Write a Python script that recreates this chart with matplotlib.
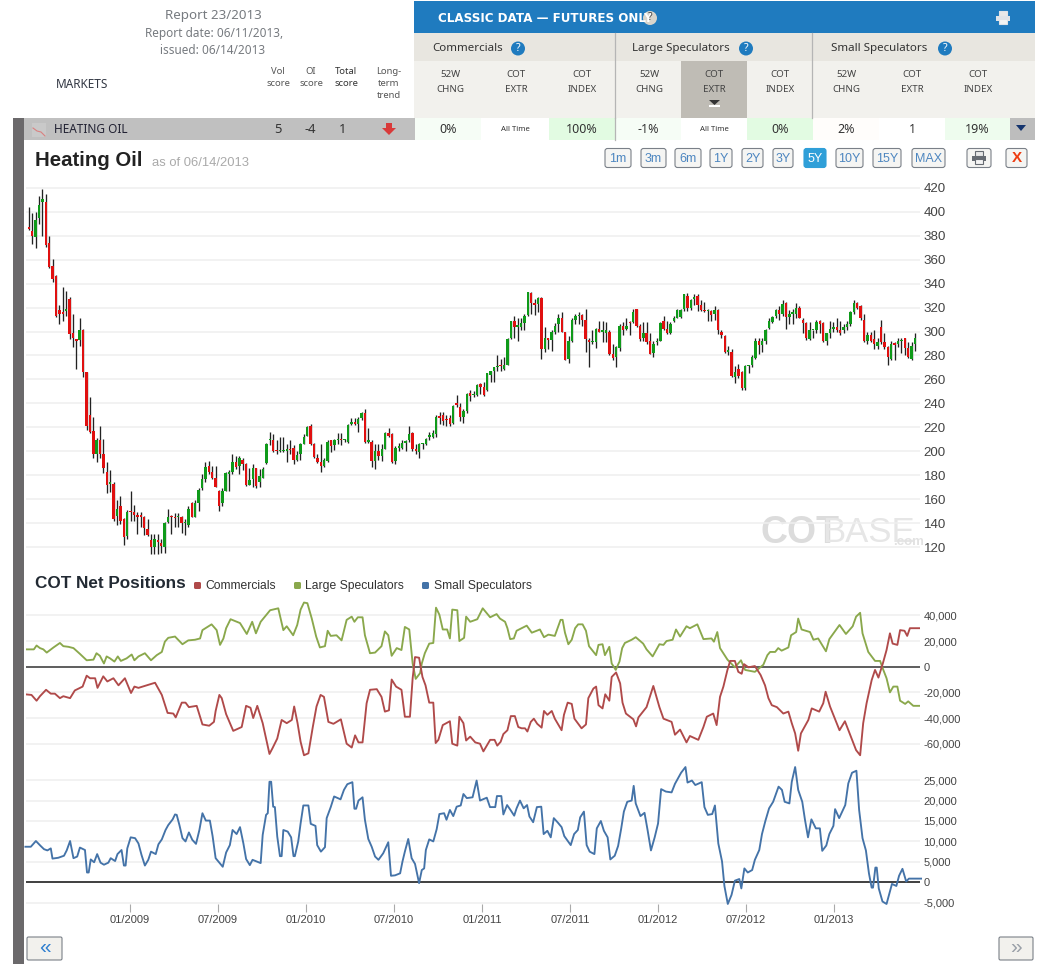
import numpy as np
import matplotlib
matplotlib.use("Agg")
import matplotlib.pyplot as plt
from matplotlib.patches import Rectangle, FancyBboxPatch, Circle, Polygon

plt.rcParams['font.family'] = ['Liberation Sans', 'DejaVu Sans']

# ---------- data ----------
first_candle_week = -29.9   # weeks relative to 01/2009
candle_open = [
387,384,379,395,408,408,374,355,346,318, 316,317,327,299,294,293,301,266,230,217,
198,209,198,183,173,173,146,154,143,129, 150,149,147,147,145,135,126,120,126,123,
120,141,146,145,145,145,140,138,157,145, 157,169,177,188,183,178,167,157,167,181,
183,191,188,193,189,172,177,186,174,178, 190,209,209,201,200,200,200,202,203,193,
198,206,213,221,206,194,191,188,192,209, 205,209,210,209,208,223,224,223,228,232,
208,208,192,200,196,202,215,214,192,203, 203,207,209,215,202,199,206,206,212,212,
214,229,230,227,228,224,240,237,229,234, 249,247,247,256,254,251,264,267,270,272,
269,272,295,309,304,304,307,314,332,324, 323,328,285,295,293,300,306,311,300,277,
292,310,313,314,310,293,291,291,302,300, 299,300,281,279,286,305,302,308,308,319,
305,295,299,292,282,291,292,309,302,299, 309,311,312,319,330,320,327,330,322,318,
317,317,315,318,300,296,283,283,262,269, 266,253,271,272,278,292,289,292,303,308,
313,318,315,324,312,315,315,320,310,307, 294,301,301,309,307,292,299,302,304,301,
301,304,306,316,324,321,310,292,297,294, 288,304,291,287,277,290,290,292,295,286,
277,290]
candle_close = [
386,380,393,406,411,372,354,344,313,315, 315,319,298,295,292,301,266,221,216,198,
209,198,186,172,174,143,152,142,128,149, 149,147,145,145,136,130,120,127,124,121,
140,145,145,144,145,140,140,152,145,157, 168,177,187,183,178,170,154,167,182,183,
191,187,194,189,172,176,186,171,179,185, 206,210,200,200,200,200,202,201,193,197,
206,212,220,206,195,191,188,193,208,204, 209,210,209,209,222,224,223,227,232,208,
208,192,200,196,202,215,213,191,203,204, 207,208,214,202,200,206,207,210,212,215,
229,228,225,226,223,238,239,229,234,248, 246,248,255,254,247,265,267,270,271,271,
272,294,309,304,305,307,313,333,324,322, 328,285,295,293,300,305,311,300,276,292,
310,313,314,310,294,291,291,302,300,300, 301,281,278,287,305,301,305,307,316,305,
294,299,291,281,290,292,307,302,299,306, 311,318,318,331,320,326,329,322,318,317,
318,314,318,301,297,283,283,263,266,263, 253,271,271,279,292,289,292,301,309,312,
318,315,323,312,315,316,320,311,307,295, 301,301,308,306,292,299,302,304,301,299,
304,306,316,324,320,311,292,297,292,290, 291,291,287,279,290,289,292,293,286,279,
288,295]
candle_low = [
385,373,370,390,380,371,353,341,312,306, 309,313,294,287,269,288,262,218,215,194,
191,194,182,165,166,142,138,139,122,127, 142,142,131,137,130,129,114,114,114,115,
115,140,131,137,137,132,130,137,145,145, 150,168,174,181,177,170,150,154,167,167,
181,185,181,184,171,172,170,169,170,178, 189,205,199,198,199,199,191,198,189,192,
193,206,213,205,194,190,183,187,191,199, 201,206,205,208,207,222,222,216,226,207,
207,187,185,193,192,202,212,190,189,200, 202,200,208,200,198,194,202,205,209,211,
212,223,222,221,221,223,237,225,224,232, 242,245,246,248,246,250,258,258,267,267,
268,272,294,295,292,301,301,313,315,314, 316,277,283,285,284,298,300,300,276,274,
291,306,306,305,283,270,290,286,300,291, 291,280,276,270,284,297,301,297,307,304,
292,292,290,281,279,289,292,301,298,298, 308,311,311,317,317,318,322,317,317,316,
309,309,310,298,295,282,280,262,257,261, 251,251,265,270,277,281,283,290,302,307,
311,310,313,302,306,306,311,311,299,293, 293,295,299,299,291,289,295,300,300,297,
299,301,305,315,319,310,291,290,291,285, 285,290,285,272,276,276,287,282,280,278,
276,284]
candle_high = [
404,399,400,413,419,415,380,361,347,322, 337,334,329,315,294,311,302,266,245,229,
211,221,210,191,184,174,159,163,144,151, 167,155,149,149,146,143,131,131,131,127,
141,152,147,148,148,146,143,154,158,159, 169,181,191,192,188,188,168,169,183,184,
198,196,196,194,190,186,189,186,185,187, 207,216,214,209,212,212,206,209,205,200,
207,214,221,223,207,198,206,194,209,209, 210,215,215,210,223,228,228,229,233,235,
219,209,206,206,206,216,219,215,204,207, 209,209,221,216,206,207,207,211,216,218,
230,233,233,230,230,239,247,240,235,249, 251,250,256,257,258,265,267,270,280,277,
279,295,309,313,311,311,315,333,333,327, 329,329,304,295,301,307,315,316,300,296,
311,315,316,315,319,295,301,303,309,309, 308,301,290,288,306,308,311,309,319,319,
306,308,308,299,292,295,308,313,309,308, 313,319,319,331,332,327,331,331,326,325,
319,318,321,319,301,297,288,285,271,273, 267,272,272,280,295,295,295,302,311,313,
319,321,326,325,318,319,324,321,311,308, 308,301,310,310,308,299,309,308,311,309,
306,309,317,326,325,322,315,300,300,301, 295,310,299,288,292,291,295,295,295,291,
291,299]

large_week = [-31,-28.4,-27.6,-26.6,-25.6,-24.6,-22.6,-20.7,-19.7,-18.2,-16.7,-14.8,-12.8,-10.8,-9.9,-8.9,-7.7,-6.9,-5.9,-4.6,-3.6,-2.7,-1,0.5,1.3,2.5,4.4,6.2,7.9,9.4,10.3,11.3,13.3,15.5,17.2,19.2,20.7,21.4,24.1,25.6,26.6,27.6,28.4,29.7,32.5,34.5,36.1,37.2,38.6,41.4,43.8,45.3,46.3,48.2,49.4,50.4,51.4,52.4,53.7,55,56.1,57.6,58.4,59.3,61,62.5,64,65.5,66.3,67.3,68.7,69.4,70.9,72.4,74.3,75.3,76.3,77.3,78.8,80.2,81.2,82.5,83.5,84.4,85.7,86.2,87.1,88.4,89.6,90.4,91.4,92.4,93.7,94.5,95.2,96.7,97.3,98.7,99.3,100.5,102.6,104.2,
106.4,108.3,109.3,110.8,111.5,112.3,113.4,114.2,117.2,118.7,121.1,122.3,123.6,125.5,127.2,127.8,128.5,129.5,130.5,131.5,132.4,133.7,134.7,135.6,137.7,138.4,139.6,140.3,141.6,142.3,143.5,144.6,145.4,146.2,148.2,149.4,151.6,152.6,154.4,156.4,157.6,158.5,160.3,161.3,162.5,164.4,165.4,167.6,169.4,171.8,172.5,173.5,174.3,176.5,178.7,180.5,181.7,184.6,187.1,188.3,189.1,190.6,191.5,192.5,194.5,195.3,196.8,197.4,198.4,200.9,201.9,203.3,205.6,206.6,209.6,211.5,213.5,214.5,215.7,216.4,218.1,220.1,221.6,222.4,223.5,224.5,225.5,226.7,227.5,229,229.9,231.4,233.7]
large_net_k = [13.5,13.5,16.5,14.5,13.5,11,15,18.5,16,15.5,14.5,10,5,5.5,10.5,8.5,2.5,8,6.5,4,8,4.5,6.5,9.5,5,8,10.5,5,9,11.5,19.5,22.5,23.5,17.5,20.5,21,22,28.5,33,28.5,17,22,30,37,34,25.5,35,26,35,44,45.5,28.5,31.5,24.5,32.5,44.5,50,49.5,37.5,23.5,15,16,28,24,24.5,20.5,36.5,39,35,38.5,38.5,24.5,10.5,11,16,27.5,24.5,8.5,14.5,13,31,29,2.5,-9.5,-5,2.5,10.5,18,18.5,46,40.5,29,29,22,44.5,44,20,22.5,39,35,37,45.5,
38.5,41,37.5,35,30,21.5,22,28,32,26.5,29,23,25,24,36.5,36.5,26.5,17.5,21,30,33,33,28,16,9,17,17.5,9,15.5,2.5,-2.5,4,14.5,18.5,21,23,18,13.5,8,17.5,17,20,21,29,23.5,31.5,30,33,21.5,22,19.5,27,14.5,5.5,-0.5,5,-2.5,-4,1.5,9,11.5,11.5,14.5,12.5,15,24.5,27,37.5,29,27,21,22,12,21.5,32.5,25.5,31.5,39,42,26,11.5,4.5,4.5,-1.5,-9,-20,-15.5,-15.5,-26.5,-29,-27,-30.5,-30.5]

comm_week = [-31,-29.1,-27.6,-26.6,-24.8,-23.4,-22.2,-20.7,-19.7,-17.7,-16.3,-14,-12.8,-11.8,-10.3,-9.6,-7.9,-6.7,-4.9,-3.4,-1.5,0.3,1.3,2.5,7.4,9.4,11.1,12.8,13.5,15.3,16.4,17.4,19.7,21.4,23.4,24.8,25.3,26.4,27.1,28.4,30.5,33,34.3,35.6,36.4,37.6,39.2,41.2,42.1,43.5,44.8,46.3,47.8,48.5,49.5,50.4,51.4,52.7,54,55.1,56.3,57.3,58.6,60.1,62.3,64,65.5,66.5,67.5,68.7,69.9,70.9,72.9,74.3,75.3,76.5,77.3,78.6,80.2,81.2,82.7,83.5,84.2,85.4,86.4,87.3,88.4,89.6,90.3,91.1,92.4,94.5,95.2,96.7,97.3,98.5,99.3,100.5,102,103.4,104.4,
106.4,107.7,108.5,109.5,110.3,111.5,112.5,113.7,114.7,115.7,116.7,117.4,118.4,119.3,120.3,121.6,122.3,123.3,124.6,125.5,127.5,128.2,129.3,130.5,131.3,133.4,134.7,135.4,136.9,137.7,138.4,139.6,140.4,141.6,142.3,143.6,144.8,145.5,146.5,148.7,149.5,150.2,152.6,154.6,156.4,157.6,160,161,162.5,164.4,165.4,167.9,169.4,170.4,172.3,173.3,174.3,175.3,176.5,177.3,178.7,179.7,180.7,181.4,182.7,184.6,186.3,187.6,188.6,189.6,191.1,193,194.5,195.5,196.5,197.4,198.2,200.4,201.4,203.6,204.8,205.5,206.8,209.6,211.2,213.2,214.5,215.7,216.6,217.6,219.1,220.1,221.1,222.4,223.5,224.5,225.3,226.7,227.5,228.8,229.6,230.4,233.7]
comm_net_k = [-21.5,-22,-26.5,-23,-18,-21,-21,-24.5,-23,-24.5,-18.5,-15.5,-7,-9,-9,-16.5,-7.5,-11.5,-9,-14.5,-9,-20.5,-15.5,-16.5,-12.5,-22,-36,-36.5,-39.5,-28,-28,-31.5,-30.5,-45,-46,-43,-34.5,-22,-24.5,-37,-50,-47,-30.5,-32,-40,-30.5,-44,-68,-63.5,-56,-41.5,-44,-41.5,-31,-44,-58.5,-69,-67.5,-47,-31,-22,-23.5,-43,-44.5,-41,-60,-63,-53.5,-59,-59,-28.5,-18,-17.5,-23.5,-35,-34,-10,-15.5,-18,-39,-39,-9,7.5,7,-8,-14.5,-28,-28,-59.5,-57,-45.5,-42.5,-60,-61.5,-39,-44,-57.5,-54.5,-59,-60,-66,
-57,-57,-61.5,-58.5,-52.5,-49.5,-38.5,-38.5,-47,-48,-48,-50.5,-43,-40.5,-44.5,-47.5,-34.5,-37.5,-34.5,-40.5,-49.5,-37.5,-28,-29,-40.5,-48,-45,-24.5,-17,-15.5,-30,-32.5,-21.5,-26.5,-8,-4.5,-13,-28,-36.5,-41,-46.5,-39.5,-31.5,-15,-31.5,-40.5,-43,-53,-49,-59,-54,-57,-47,-39,-36.5,-45.5,-23.5,-15.5,-2.5,4.5,4.5,-4,-5.5,2,-0.5,0.5,-6.5,-14.5,-24.5,-30,-31.5,-36.5,-35,-44,-52,-65.5,-52,-41.5,-32.5,-35,-28.5,-19.5,-31,-49.5,-42.5,-56,-65,-69,-44,-28.5,-10.5,-2.5,-8.5,2.5,13,26,18,17,28.5,28,24,30,30]

small_week = [-30.9,-29.3,-27.8,-26.4,-25.4,-24.4,-23.4,-22.9,-21.2,-19.5,-18.7,-17.7,-16.7,-15.6,-14.8,-13.3,-12.7,-12.2,-11.6,-10.6,-9.7,-8.7,-7.7,-6.4,-5.7,-4.4,-3.7,-2.5,-1.8,-1.3,-0.8,0.2,1.5,2.5,3.4,4.4,5.4,6.2,7.6,8.4,9.4,10.5,11.3,12.6,13.3,13.8,14.6,15.5,16.4,17.4,18.4,19.5,20.5,21.4,22.4,23.6,24.4,25.3,26.4,27.4,28.4,29.5,30.3,31.5,32.5,33.5,34.3,35.4,36.2,38.6,39.2,40.2,40.7,41.2,41.7,42.3,42.8,43.5,44.3,44.8,45.3,46.6,47.6,48.3,48.7,49.7,50.4,51.2,52.7,53.4,54.8,55.3,56.4,57.6,58.1,59.3,60.3,62.2,63.2,64.2,65.7,66.3,66.8,67.5,68.7,69.4,70.4,71.4,72.4,73.4,74.8,76.3,77.1,78.3,79.8,80.5,81.2,82.2,83.2,84.2,85.4,86.2,86.9,87.4,88.4,89.6,90.6,91.4,92.8,93.5,94.5,95.5,96.5,97.7,98.5,99.5,101.2,102.4,103.4,105.4,
106.35,107.9,108.4,109.7,110.3,111.4,112.4,113.5,114.2,115.2,116.3,117.3,118,119.1,120.2,121.5,122.2,123.3,124.3,125.2,126.4,127.5,128.3,130.2,131.2,132.3,133,134.1,134.9,135.8,137.2,137.9,139.1,140,141.1,141.9,143.2,144.2,145.1,145.9,146.9,148.2,148.8,149.4,150.8,152,152.9,153.9,155,156,156.9,158.3,160,161,162.8,164.1,164.7,166,167,168.9,169.7,170.7,172,172.8,173.8,174.9,175.6,176.6,177.7,178.7,180,180.6,181.5,182.5,183.8,184.6,185.9,186.7,187.7,188.8,190,191.6,192.6,193.4,194.8,195.5,196.5,197.4,198.6,199.4,200.3,201.3,202.6,203.8,204.5,205.7,206.6,207.8,208.3,209.5,211.3,212.2,213.3,214.6,215.4,216.4,217.4,218.3,219.1,219.5,220.2,220.6,221.2,222.3,223.5,225.1,226.4,227.2,228.2,229.3,230.1,233.7]
small_net_k = [8.7,8.7,10.1,8.9,8.1,7.8,8.3,5.8,6,6.5,7.8,10.1,5.9,6.3,8.5,7.9,2.4,2.4,5.6,4.9,6.9,4.8,4.3,4.8,5.9,5.2,6.9,7.9,4.1,4.1,8.3,11,10.8,9.5,6.7,4.1,5.5,7.5,6.9,9.3,10.5,12.8,14,15.4,16.6,16.5,14,10.8,10,12.2,10.4,9.4,12.8,16.9,15.1,15.1,11.3,5.9,4.8,3.8,7.3,9.1,12.8,11.8,13.5,9.5,5.7,4.2,5.5,4.7,11.6,16.5,16.9,24.6,24.6,18.5,18.4,11.2,6.4,6.4,12.8,12.4,11,6.4,6.4,10,14.4,18.8,18.8,14.3,13.8,9.1,7.5,8.6,15.7,18.4,21,20.3,22.6,24,24.5,18,18,20,20.8,15.3,10.6,8.7,6.3,5.5,7.1,9.8,1.6,1.7,2.2,5.1,7.5,10.6,5.9,4.5,-0.2,3,3.4,7.9,10.5,10,13,16.7,16.9,15.3,17.7,16.2,18.5,18.8,21.6,20.6,20.8,24.9,20,20.7,
18.4,18.4,21.1,21.1,16.6,18.9,17.7,16.3,18.1,20,18.1,18.9,16.1,14.7,18.4,18.5,11.8,12.6,11,15.7,14.6,13.5,11.3,9.1,11.8,12.8,15.9,17.3,9.1,7.5,6.9,13.2,15,12.6,11,5.6,6.5,8.9,13.1,17.3,19.7,20,23.6,19.3,16.2,17,12.8,7.8,11,14.4,22.8,22.2,22,24.1,26.8,28.2,24.4,24.9,23.8,24.5,18.4,16.5,16.7,18.8,9.5,5.1,-0.9,-5.3,-3.1,0.4,0.8,-1.5,3.4,2.4,3,5.5,7.9,11.8,15,18.1,19.7,23.4,22.6,19.7,19.3,24.6,28.2,22.6,19.7,15.3,11,15.4,13.2,13.2,7.7,9,11.8,13.8,17.9,15.7,18.9,24.2,26.8,27.3,17.7,10.8,7.8,2.2,-1.3,-1.3,3.6,3.6,-1.5,-4.7,-5.3,-0.4,-0.9,1.6,3.3,0.2,0.9,0.9]

price_ticks = list(range(120, 421, 20))
upper_ticks = [-60000, -40000, -20000, 0, 20000, 40000]
lower_ticks = [-5000, 0, 5000, 10000, 15000, 20000, 25000]
date_weeks = [0, 26, 52, 78, 104, 130, 156, 182, 208]
date_labels = ['01/2009', '07/2009', '01/2010', '07/2010', '01/2011', '07/2011', '01/2012', '07/2012', '01/2013']

RED, GREEN = '#e01010', '#0f9a1a'
C_COMM, C_LARGE, C_SMALL = '#b04a4a', '#8aa84c', '#4473a8'

W, H = 1051, 964
fig = plt.figure(figsize=(W / 100, H / 100), dpi=100, facecolor='white')

# ---------- page furniture in pixel coordinates ----------
bg = fig.add_axes([0, 0, 1, 1], zorder=0)
bg.set_xlim(0, W); bg.set_ylim(H, 0); bg.axis('off')
UI = ['Noto Sans', 'DejaVu Sans']

def rect(x0, y0, x1, y1, c, z=1):
    bg.add_patch(Rectangle((x0, y0), x1 - x0, y1 - y0, fc=c, ec='none', zorder=z))

def txt(x, y, s, size=8, c='#333333', ha='center', w='normal', fam=UI, **k):
    bg.text(x, y, s, fontsize=size, color=c, ha=ha, va='center', fontweight=w, family=fam, zorder=5, **k)

def help_icon(x, y, fc='#1f7bbf', tc='white', r=7):
    bg.add_patch(Circle((x, y), r, fc=fc, ec='none', zorder=4))
    txt(x, y - 0.3, '?', 7.5, tc, w='bold')

def printer(cx, cy, c='#6b7078'):
    rect(cx - 4, cy - 7, cx + 4, cy - 2, 'white', 5)
    bg.add_patch(Rectangle((cx - 4, cy - 7), 8, 5, fc='#e8e8e8', ec=c, lw=0.8, zorder=5))
    rect(cx - 7, cy - 2, cx + 7, cy + 3, c, 5)
    bg.add_patch(Rectangle((cx - 4, cy + 1), 8, 5, fc='#f4f4f4', ec=c, lw=0.8, zorder=6))

# left block
txt(213, 15, 'Report 23/2013', 9.6, '#777b80')
txt(214, 34, 'Report date: 06/11/2013,', 8.5, '#777b80')
txt(213, 50, 'issued: 06/14/2013', 8.5, '#777b80')
txt(82, 85, 'MARKETS', 8.5, '#333844', w='bold')
txt(278, 72, 'Vol', 6.8, '#555555'); txt(278, 84, 'score', 6.8, '#555555')
txt(311, 72, 'OI', 6.8, '#555555'); txt(311, 84, 'score', 6.8, '#555555')
txt(346, 72, 'Total', 6.8, '#333333', w='bold'); txt(346, 84, 'score', 6.8, '#333333', w='bold')
txt(389, 72, 'Long-', 6.8, '#555555'); txt(389, 84, 'term', 6.8, '#555555'); txt(389, 95, 'trend', 6.8, '#555555')

# blue header and table head
rect(414, 1, 1035, 33, '#1f7bbf')
rect(414, 33, 1035, 61, '#e8e6e0')
rect(414, 61, 1035, 118, '#f2f1ed')
rect(681, 61, 747, 118, '#bfbcb5', 2)
for xv in (615, 812):
    bg.plot([xv, xv], [33, 118], color='#b5b5b5', lw=0.9, zorder=3)
bg.plot([615, 615], [118, 140], color='#b5b5b5', lw=0.9, zorder=3)
txt(438, 18, 'CLASSIC DATA — FUTURES ONLY', 8.6, 'white', ha='left', w='bold', fam=['DejaVu Sans'])
help_icon(650, 18, '#d8d5cc', '#444444')
printer(1003, 18, '#dfe3e8')
for x, s, hx in ((432, 'Commercials', 518), (632, 'Large Speculators', 746), (831, 'Small Speculators', 945)):
    txt(x, 48.5, s, 8.3, '#333333', ha='left', w='bold')
    help_icon(hx, 48.5)
for x, a, b in ((450, '52W', 'CHNG'), (516, 'COT', 'EXTR'), (582, 'COT', 'INDEX'),
                (649, '52W', 'CHNG'), (714, 'COT', 'EXTR'), (780, 'COT', 'INDEX'),
                (846, '52W', 'CHNG'), (912, 'COT', 'EXTR'), (978, 'COT', 'INDEX')):
    txt(x, 74.5, a, 7, '#444444', w='bold'); txt(x, 89.5, b, 7, '#444444', w='bold')
bg.add_patch(Polygon([(709, 100), (720, 100), (714.5, 105)], fc='#333333', ec='none', zorder=4))
rect(709, 105, 720, 106.5, 'white', 4)

# market row
rect(13, 118, 415, 140, '#c0c0c0')
for x0, x1, c, s, fs in ((415, 481, '#f6fdf6', '0%', 9), (481, 549, 'white', 'All Time', 5.6),
                         (549, 615, '#e2fbe2', '100%', 9), (615, 681, '#f6fdf6', '-1%', 9),
                         (681, 747, 'white', 'All Time', 5.6), (747, 813, '#e2fbe2', '0%', 9),
                         (813, 879, '#fffdfb', '2%', 9), (879, 945, 'white', '1', 9),
                         (945, 1010, '#eefcee', '19%', 9)):
    rect(x0, 118, x1, 140, c)
    txt((x0 + x1) / 2, 129.5, s, fs, '#333333')
rect(1010, 118, 1035, 140, '#bdbdbd')
bg.add_patch(Polygon([(1016, 125), (1026, 125), (1021, 131)], fc='#14346e', ec='none', zorder=4))
txt(54, 129.5, 'HEATING OIL', 8.5, '#222233', ha='left')
txt(278, 129.5, '5', 9.3, '#333333'); txt(310, 129.5, '-4', 9.3, '#333333'); txt(343, 129.5, '1', 9.3, '#333333', w='bold')
bg.add_patch(Polygon([(386, 123), (392, 123), (392, 128), (396, 128), (389, 135), (382, 128), (386, 128)],
                     fc='#d93a3a', ec='none', zorder=4))
rect(32, 123, 46, 137, '#c9c9c9', 2)
bg.plot([33, 37, 41, 45], [128, 131, 132, 136], color='#d98080', lw=0.8, zorder=3)

# side bar
rect(13, 118, 24, H, '#6b696b', 3)

# chart title + buttons
txt(35, 160.5, 'Heating Oil', 14.7, '#222222', ha='left', w='bold', fam=['Liberation Sans'])
txt(152, 162.5, 'as of 06/14/2013', 9.4, '#aaaaaa', ha='left', fam=['Liberation Sans'])
for s, x0, x1, on in (('1m', 605, 631, 0), ('3m', 641, 666, 0), ('6m', 675, 701, 0), ('1Y', 710, 732, 0),
                      ('2Y', 742, 763, 0), ('3Y', 773, 793, 0), ('5Y', 804, 826, 1), ('10Y', 836, 863, 0),
                      ('15Y', 873, 901, 0), ('MAX', 912, 945, 0)):
    bg.add_patch(FancyBboxPatch((x0 + 1.5, 150), x1 - x0 - 3, 16, boxstyle='round,pad=1.5,rounding_size=2.5',
                                fc='#2f9fd8' if on else '#f5f5f3', ec='#2f9fd8' if on else '#7a8088', lw=0.8, zorder=3))
    txt((x0 + x1) / 2, 158.5, s, 9, 'white' if on else '#4d86c0', fam=['Liberation Sans'])
for x0, x1 in ((967, 991), (1006, 1027)):
    bg.add_patch(FancyBboxPatch((x0 + 1.5, 150), x1 - x0 - 3, 16, boxstyle='round,pad=1.5,rounding_size=2.5',
                                fc='#f5f5f3', ec='#7a8088', lw=0.8, zorder=3))
printer(979, 158, '#666b72')
txt(1016.5, 158.5, 'X', 11, '#ee3b10', w='bold', fam=['Liberation Sans'])

# watermark
txt(760, 533, 'COT', 27, '#dcdcdc', ha='left', w='bold', fam=['Liberation Sans'])
txt(822, 533, 'BASE', 25, '#e6e6e6', ha='left', fam=['Liberation Sans'])
txt(893, 542, '.com', 9.5, '#e2e2e2', ha='left', w='bold', fam=['Liberation Sans'])

# COT title and legend
txt(35, 583, 'COT Net Positions', 12.3, '#222a33', ha='left', w='bold', fam=['Liberation Sans'])
for sx, tx, c, s in ((194, 205, C_COMM, 'Commercials'), (294, 305, C_LARGE, 'Large Speculators'),
                     (422, 434, C_SMALL, 'Small Speculators')):
    bg.add_patch(FancyBboxPatch((sx + 1, 583), 5, 5, boxstyle='round,pad=1,rounding_size=1.5', fc=c, ec='none', zorder=4))
    txt(tx, 586, s, 8.7, '#333333', ha='left', fam=['Liberation Sans'])

# paging buttons
for x0, x1, s, c in ((27, 62, '«', '#2f7fd0'), (999, 1033, '»', '#9aa0a8')):
    bg.add_patch(FancyBboxPatch((x0 + 1.5, 938.5), x1 - x0 - 3, 20, boxstyle='round,pad=1.5,rounding_size=1.5',
                                fc='#f2f1ed', ec='#7a8088', lw=0.8, zorder=3))
    txt((x0 + x1) / 2, 947.5, s, 15, c, fam=['Liberation Sans'])

# ---------- charts ----------
def week_of(px):
    return (px - 130) / 3.385

def panel(y_top, y_bot, val_top, val_bot, ticks, labels, size):
    ax = fig.add_axes([26 / W, 1 - y_bot / H, (920 - 26) / W, (y_bot - y_top) / H], zorder=2)
    ax.patch.set_alpha(0)
    ax.set_xlim(week_of(26), week_of(920))
    ax.set_ylim(val_bot, val_top)
    for s in ax.spines.values():
        s.set_visible(False)
    ax.yaxis.tick_right()
    ax.set_yticks(ticks, labels)
    ax.tick_params(axis='y', length=0, pad=2.5, labelsize=size, labelcolor='#444444')
    ax.set_xticks([])
    ax.grid(axis='y', color='#efefef', lw=1.1)
    ax.set_axisbelow(True)
    return ax

# price candles
ax1 = panel(180, 558, 120 + (547 - 180) / 1.197, 120 + (547 - 558) / 1.197,
            price_ticks, [str(t) for t in price_ticks], 9.6)
o, c, lo, hi = map(np.array, (candle_open, candle_close, candle_low, candle_high))
wk = first_candle_week + np.arange(len(o)) * 1.003
ax1.vlines(wk, lo, hi, color='#222222', lw=0.95, zorder=2)
cols = np.where(c >= o, GREEN, RED)
bottom = np.minimum(o, c)
height = np.maximum(np.abs(c - o), 1.2)
ax1.bar(wk, height, bottom=bottom, width=0.72, color=cols, lw=0, zorder=3)

# commercials / large speculators
ax2 = panel(600, 760, (666.7 - 600) / 1.2833 * 1000, (666.7 - 760) / 1.2833 * 1000,
            upper_ticks, [f'{t:,}' for t in upper_ticks], 8)
ax2.plot(large_week, np.array(large_net_k) * 1000, color=C_LARGE, lw=1.35, zorder=3)
ax2.plot(comm_week, np.array(comm_net_k) * 1000, color=C_COMM, lw=1.35, zorder=4)
ax2.axhline(0, color='#444444', lw=1.2, zorder=2)

# small speculators
ax3 = panel(760, 904.3, (882.3 - 760) / 4.087 * 1000, (882.3 - 904.3) / 4.087 * 1000,
            lower_ticks, [f'{t:,}' for t in lower_ticks], 8)
ax3.plot(small_week, np.array(small_net_k) * 1000, color=C_SMALL, lw=1.35, zorder=3, clip_on=False)
ax3.axhline(0, color='#222222', lw=1.2, zorder=2)
ax3.set_xticks(date_weeks, date_labels)
ax3.tick_params(axis='x', length=5.8, width=0.8, color='#aaaaaa', labelcolor='#444444', labelsize=8, pad=2)

fig.savefig('out.png', dpi=100)
